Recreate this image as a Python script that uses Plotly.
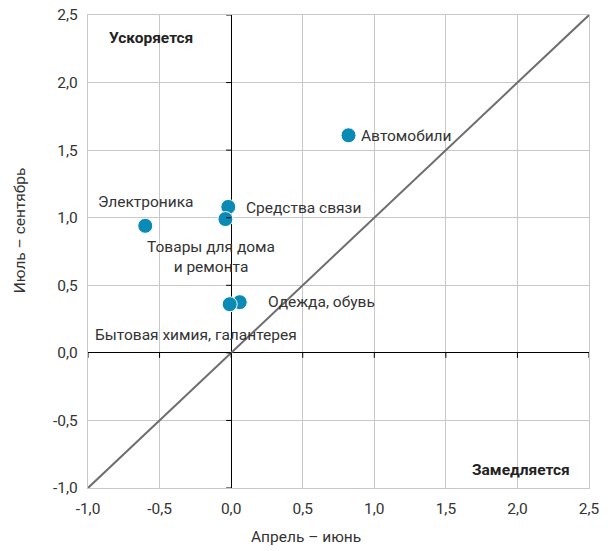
import plotly.graph_objects as go

categories = ["Автомобили", "Средства связи", "Товары для дома<br>и ремонта",
              "Электроника", "Одежда, обувь", "Бытовая химия, галантерея"]
apr_jun = [0.82, -0.02, -0.04, -0.60, 0.06, -0.01]
jul_sep = [1.61, 1.08, 0.99, 0.94, 0.375, 0.36]

tick_vals = [-1.0, -0.5, 0.0, 0.5, 1.0, 1.5, 2.0, 2.5]
tick_text = ["-1,0", "-0,5", "0,0", "0,5", "1,0", "1,5", "2,0", "2,5"]

diag = [-1.0, 2.5]

# label placement (pixel offsets relative to each point)
label_style = {
    "Автомобили": dict(xanchor="left", yanchor="middle", xshift=10, yshift=-1),
    "Средства связи": dict(xanchor="left", yanchor="middle", xshift=16, yshift=-1),
    "Товары для дома<br>и ремонта": dict(xanchor="center", yanchor="middle", xshift=-14, yshift=-38),
    "Электроника": dict(xanchor="center", yanchor="middle", xshift=1, yshift=24),
    "Одежда, обувь": dict(xanchor="left", yanchor="middle", xshift=26, yshift=0),
    "Бытовая химия, галантерея": dict(xanchor="left", yanchor="middle", xshift=-137, yshift=-31),
}

FONT = "Roboto"
FS = 15.5
TXT = "#333333"
fig = go.Figure()

fig.add_trace(go.Scatter(x=diag, y=diag, mode="lines",
                         line=dict(color="#6e6e6e", width=2), hoverinfo="skip",
                         showlegend=False))
fig.add_trace(go.Scatter(x=apr_jun, y=jul_sep, mode="markers",
                         marker=dict(size=15, color="#0a8ab4",
                                     line=dict(color="white", width=1)),
                         showlegend=False))

for c, xv, yv in zip(categories, apr_jun, jul_sep):
    fig.add_annotation(x=xv, y=yv, text=c, showarrow=False, align="center",
                       font=dict(family=FONT, size=FS, color=TXT),
                       **label_style[c])

fig.add_annotation(x=-1, y=2.5, xref="x", yref="y", text="<b>Ускоряется</b>",
                   showarrow=False, xanchor="left", yanchor="middle",
                   xshift=19, yshift=-23, font=dict(family=FONT, size=FS, color="#222222"))
fig.add_annotation(x=2.5, y=-1, xref="x", yref="y", text="<b>Замедляется</b>",
                   showarrow=False, xanchor="right", yanchor="middle",
                   xshift=-17, yshift=18, font=dict(family=FONT, size=FS, color="#222222"))

# axis titles
fig.add_annotation(x=0.435, y=0, xref="paper", yref="paper", text="Апрель – июнь",
                   showarrow=False, xanchor="center", yanchor="middle", yshift=-49,
                   font=dict(family=FONT, size=FS, color=TXT))
fig.add_annotation(x=0, y=0.545, xref="paper", yref="paper", text="Июль – сентябрь",
                   showarrow=False, xanchor="center", yanchor="middle", xshift=-68,
                   textangle=-90, font=dict(family=FONT, size=FS, color=TXT))

# small ticks on the zero axes
shapes = []
for v in tick_vals:
    shapes.append(dict(type="line", xref="x", yref="y", xsizemode="pixel", xanchor=0,
                       x0=-5, x1=0, y0=v, y1=v, line=dict(color="black", width=1)))
    shapes.append(dict(type="line", xref="x", yref="y", ysizemode="pixel", yanchor=0,
                       y0=-5, y1=0, x0=v, x1=v, line=dict(color="black", width=1)))
fig.update_layout(shapes=shapes)

axis_common = dict(range=[-1, 2.5], tickvals=tick_vals, ticktext=tick_text,
                   showgrid=True, gridcolor="#c8c8c8", gridwidth=1.3,
                   zeroline=True, zerolinecolor="black", zerolinewidth=1,
                   showline=True, linecolor="#c8c8c8", linewidth=1.3, mirror=True,
                   ticks="", tickfont=dict(family=FONT, size=FS, color=TXT),
                   ticklabeloverflow="allow", automargin=False, fixedrange=True)

fig.update_xaxes(**axis_common, ticklabelstandoff=6)
fig.update_yaxes(**axis_common, ticklabelstandoff=6)

fig.update_layout(width=611, height=551, plot_bgcolor="white", paper_bgcolor="white",
                  margin=dict(l=88, r=22, t=15, b=63), showlegend=False)

fig.write_html("out.html", config={"displayModeBar": False},
               post_script="document.body.style.margin='0';")
